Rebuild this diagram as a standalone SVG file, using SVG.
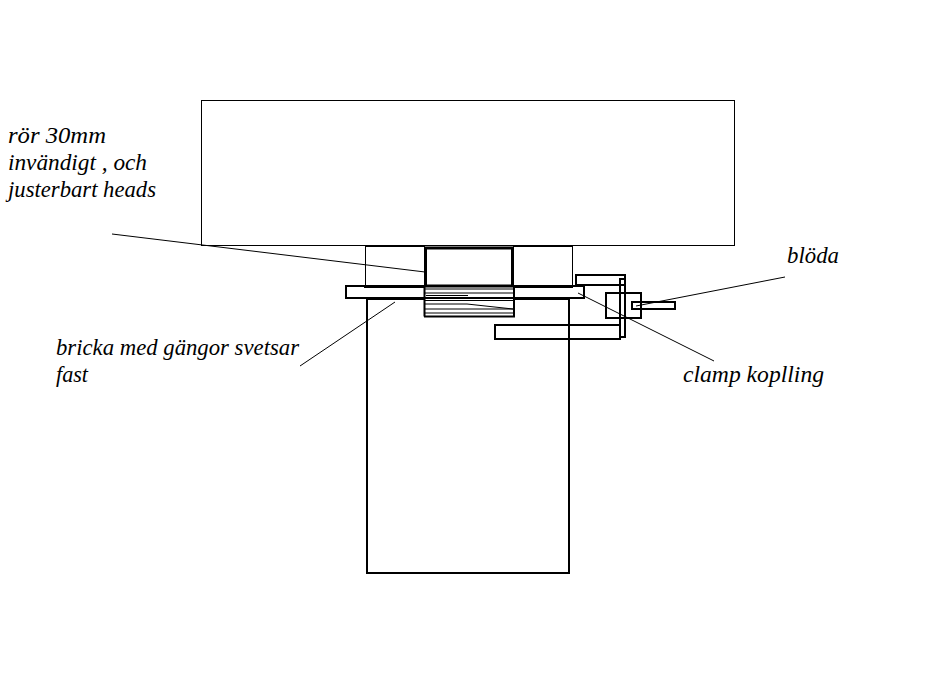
<svg xmlns="http://www.w3.org/2000/svg" width="931" height="683" viewBox="0 0 931 683">
<style>
.t{font-family:"Liberation Serif","Times New Roman",serif;font-style:italic;font-size:22.8px;fill:#000}
.n{fill:none;stroke:#000;stroke-width:1}
.m{fill:none;stroke:#000;stroke-width:2}
.b{fill:none;stroke:#000;stroke-width:3}
</style>
<rect width="931" height="683" fill="#fff"/>
<g id="head"><rect class="n" x="201.500" y="100.500" width="533" height="145"/></g>
<g id="collar"><path class="n" d="M365.500 246V286M572.500 246V286"/><path class="m" d="M365 246H425M513 246H573"/></g>
<g id="tube"><rect class="b" x="425.500" y="248" width="87" height="38"/></g>
<g id="washer"><rect class="m" x="346" y="286" width="238" height="12"/><path class="b" d="M364 286.500H425M513 286.500H573M367 298.500H424M514 298.500H569"/></g>
<g id="thread"><path class="m" d="M424.500 286V316.500M514 286V316.500M424 316.500H515"/><path class="n" d="M425 289H513M425 293H513M426 295.500H468M426 297.500H513M425 300.500H513M425 304H467L513 309M425 309H513M425 313H513"/></g>
<g id="body"><path class="m" d="M367 298V573H569V298"/><path class="m" d="M366 573H570"/></g>
<g id="clamp">
<rect class="m" x="576" y="275" width="49" height="10"/>
<rect class="m" x="620" y="279" width="5" height="58"/>
<rect class="m" x="495" y="325" width="125" height="14"/>
<rect class="m" x="606" y="293" width="35" height="25"/>
<rect class="m" x="632" y="302" width="43" height="7"/>
</g>
<g id="connectors">
<path class="n" d="M112 234L425 272"/>
<path class="n" d="M300 366L395 302"/>
<path class="n" d="M578 293L714 361"/>
<path class="n" d="M636 306L785 277"/>
</g>
<g id="labels">
<text class="t" x="8" y="143" textLength="98" lengthAdjust="spacingAndGlyphs">rör 30mm</text>
<text class="t" x="8" y="170" textLength="139" lengthAdjust="spacingAndGlyphs">invändigt , och</text>
<text class="t" x="8" y="197" textLength="148" lengthAdjust="spacingAndGlyphs">justerbart heads</text>
<text class="t" x="56" y="355" textLength="243" lengthAdjust="spacingAndGlyphs">bricka med gängor svetsar</text>
<text class="t" x="56" y="382" textLength="32" lengthAdjust="spacingAndGlyphs">fast</text>
<text class="t" x="787" y="263" textLength="52" lengthAdjust="spacingAndGlyphs">blöda</text>
<text class="t" x="683" y="382" textLength="141" lengthAdjust="spacingAndGlyphs">clamp koplling</text>
</g>
</svg>
